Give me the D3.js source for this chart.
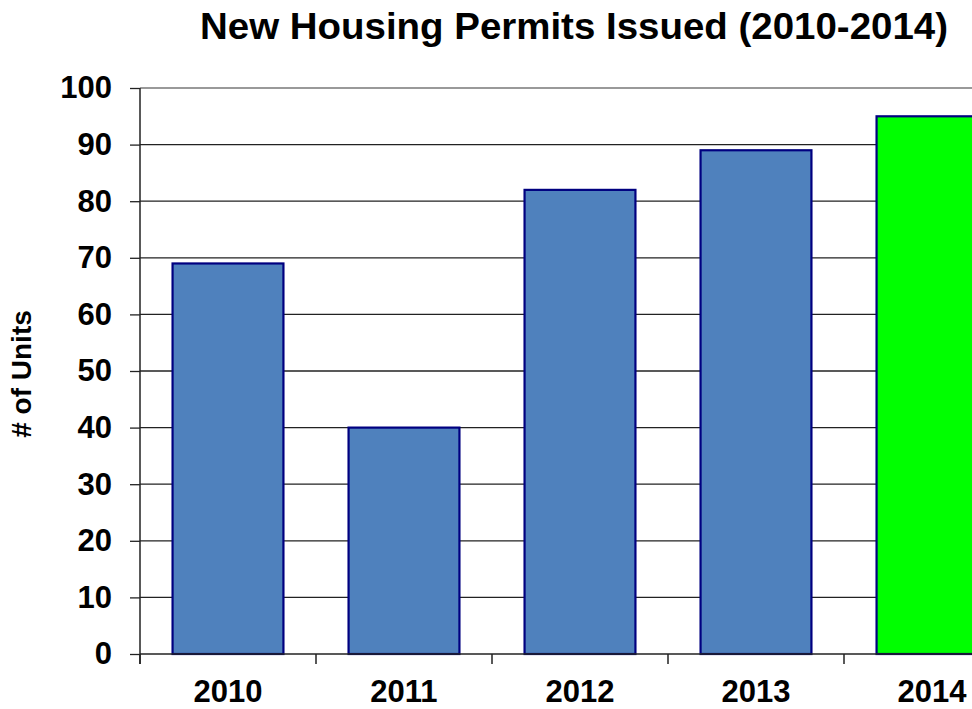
<!DOCTYPE html>
<html>
<head>
<meta charset="utf-8">
<script src="https://cdn.jsdelivr.net/npm/d3@7"></script>
<style>
html,body{margin:0;padding:0;background:#fff;overflow:hidden;}
svg{display:block;font-family:"Liberation Sans",Arial,sans-serif;}
</style>
</head>
<body>
<svg id="chart" width="972" height="709"></svg>
<script>
const categories = ["2010","2011","2012","2013","2014"];
const values = [69, 40, 82, 89, 95];
const barColors = ["#4F81BD","#4F81BD","#4F81BD","#4F81BD","#00FF00"];
const yTicks = [0,10,20,30,40,50,60,70,80,90,100];
const titleText = "New Housing Permits Issued (2010-2014)";
const yLabel = "# of Units";

const svg = d3.select("#chart");
const plotLeft = 140, plotTop = 88, plotBottom = 654;
const x = d3.scaleBand().domain(categories).range([plotLeft, plotLeft + 176*5]).paddingInner(0.37).paddingOuter(0.185);
const y = d3.scaleLinear().domain([0,100]).range([plotBottom, plotTop]);

// gridlines
svg.append("g").selectAll("line").data(yTicks.filter(d=>d>0)).join("line")
  .attr("x1", plotLeft).attr("x2", 972)
  .attr("y1", d=>y(d)).attr("y2", d=>y(d))
  .attr("stroke", d=> d===100 ? "#777" : "#222").attr("stroke-width", 1.3);

// bars
svg.append("g").selectAll("rect").data(categories).join("rect")
  .attr("x", d=>x(d)).attr("width", x.bandwidth())
  .attr("y", (d,i)=>y(values[i])).attr("height", (d,i)=>y(0)-y(values[i]))
  .attr("fill", (d,i)=>barColors[i])
  .attr("stroke", "#000080").attr("stroke-width", 2.2);

// y axis
const yAxis = d3.axisLeft(y).tickValues(yTicks).tickSize(10).tickPadding(18);
const gy = svg.append("g").attr("transform", `translate(${plotLeft},0)`).call(yAxis);
gy.select(".domain").remove();
gy.selectAll(".tick line").attr("stroke","#222").attr("stroke-width",1.3);
gy.selectAll(".tick text").attr("font-size", 31).attr("font-weight","bold").attr("fill","#000")
  .attr("font-family","'Liberation Sans',Arial,sans-serif");
svg.append("line").attr("x1",plotLeft).attr("x2",plotLeft).attr("y1",plotTop).attr("y2",plotBottom+10)
  .attr("stroke","#222").attr("stroke-width",1.5);

// x axis
svg.append("line").attr("x1",plotLeft).attr("x2",972).attr("y1",plotBottom).attr("y2",plotBottom)
  .attr("stroke","#222").attr("stroke-width",1.5);
const gap = (x.step()-x.bandwidth())/2;
const bounds = categories.map(d=>x(d)-gap).concat([x(categories[categories.length-1])+x.bandwidth()+gap]);
svg.append("g").selectAll("line").data(bounds).join("line")
  .attr("x1",d=>d).attr("x2",d=>d).attr("y1",plotBottom).attr("y2",plotBottom+10)
  .attr("stroke","#222").attr("stroke-width",1.5);
svg.append("g").selectAll("text").data(categories).join("text")
  .attr("x", d=>x(d)+x.bandwidth()/2).attr("y", 702)
  .attr("text-anchor","middle").attr("font-size",31).attr("font-weight","bold")
  .text(d=>d);

// title
const t = svg.append("text").attr("x", 574).attr("y", 39).attr("text-anchor","middle")
  .attr("font-size", 37).attr("font-weight","bold").text(titleText);
const w = t.node().getComputedTextLength();
if (Math.abs(w-748) > 4) t.attr("textLength", 748).attr("lengthAdjust","spacingAndGlyphs");

// y label
svg.append("text").attr("transform","translate(31,374) rotate(-90)")
  .attr("text-anchor","middle").attr("font-size",28).attr("font-weight","bold").text(yLabel);
</script>
</body>
</html>
